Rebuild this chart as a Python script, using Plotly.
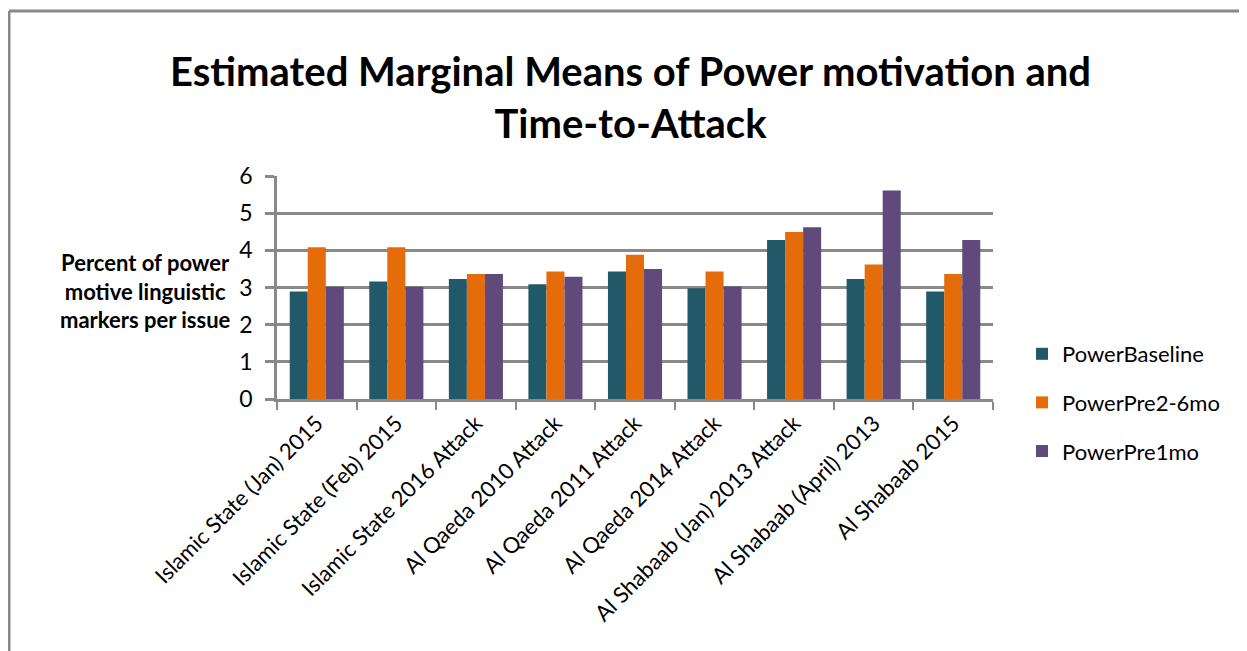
import plotly.graph_objects as go

categories = [
    "Islamic State (Jan) 2015",
    "Islamic State (Feb) 2015",
    "Islamic State 2016 Attack",
    "Al Qaeda 2010 Attack",
    "Al Qaeda 2011 Attack",
    "Al Qaeda 2014 Attack",
    "Al Shabaab (Jan) 2013 Attack",
    "Al Shabaab (April) 2013",
    "Al Shabaab 2015",
]
power_baseline = [2.89, 3.16, 3.23, 3.09, 3.43, 2.98, 4.28, 3.23, 2.89]
power_pre_2_6mo = [4.08, 4.08, 3.36, 3.43, 3.88, 3.43, 4.49, 3.62, 3.36]
power_pre_1mo = [3.02, 3.02, 3.36, 3.29, 3.50, 3.03, 4.62, 5.61, 4.28]
series_names = ["PowerBaseline", "PowerPre2-6mo", "PowerPre1mo"]
series_colors = ["#215968", "#E46C0A", "#604A7B"]
y_ticks = [0, 1, 2, 3, 4, 5, 6]

OFF = 8  # page body margin
W, H = 1247 - OFF, 651 - OFF
L, R, T, B = 277 - OFF, 993 - OFF, 176 - OFF, 399 - OFF  # plot area in figure pixels


def px(x):
    # x given in screenshot pixels
    return (x - OFF - L) / (R - L)


def py(y):
    return (B - (y - OFF)) / (B - T)


FONT = "Lato, 'Open Sans', sans-serif"

fig = go.Figure()
for name, vals, col in zip(series_names, [power_baseline, power_pre_2_6mo, power_pre_1mo], series_colors):
    fig.add_trace(go.Bar(
        x=categories, y=vals, name=name, legendgroup=name,
        marker=dict(color=col, line=dict(width=0)),
    ))

fig.update_layout(
    width=W, height=H,
    margin=dict(l=L, r=W - R, t=T, b=H - B, pad=0),
    paper_bgcolor="white", plot_bgcolor="white",
    font=dict(family=FONT, size=20, color="#000000"),
    barmode="group", bargap=0.32, bargroupgap=0,
    showlegend=True,
    legend=dict(
        x=px(1022), y=py(333), xanchor="left", yanchor="top",
        font=dict(size=22, family=FONT), tracegroupgap=17,
        traceorder="grouped", bgcolor="rgba(0,0,0,0)",
    ),
    xaxis=dict(
        showline=True, linecolor="#898989", linewidth=2.5,
        ticks="outside", tickson="boundaries", ticklen=8, tickcolor="#898989", tickwidth=2,
        tickangle=-45, tickfont=dict(size=22, family=FONT),
        showgrid=False,
    ),
    yaxis=dict(
        range=[0, 6], tickvals=y_ticks,
        showline=True, linecolor="#898989", linewidth=2.5,
        ticks="outside", ticklen=9, tickcolor="#898989", tickwidth=2.5,
        showgrid=True, gridcolor="#898989", gridwidth=2.5,
        tickfont=dict(size=23, family=FONT), ticklabelstandoff=8,
        zeroline=False,
    ),
    annotations=[
        dict(
            text="<b>Estimated Marginal Means of Power motivation and<br>Time-to-Attack</b>",
            x=px(630), y=py(97), xref="paper", yref="paper",
            xanchor="center", yanchor="middle", showarrow=False,
            font=dict(size=40, family=FONT), align="center",
        ),
        dict(
            text="<b>Percent of power<br>motive linguistic<br>markers per issue</b>",
            x=px(145), y=py(291), xref="paper", yref="paper",
            xanchor="center", yanchor="middle", showarrow=False,
            font=dict(size=22, family=FONT), align="center",
        ),
    ],
    shapes=[
        dict(type="line", xref="paper", yref="paper", x0=px(9), x1=px(9), y0=py(11), y1=py(670),
             line=dict(color="#898989", width=3)),
        dict(type="line", xref="paper", yref="paper", x0=px(9), x1=px(1260), y0=py(11), y1=py(11),
             line=dict(color="#898989", width=3)),
    ],
)

fig.write_html("out.html")
